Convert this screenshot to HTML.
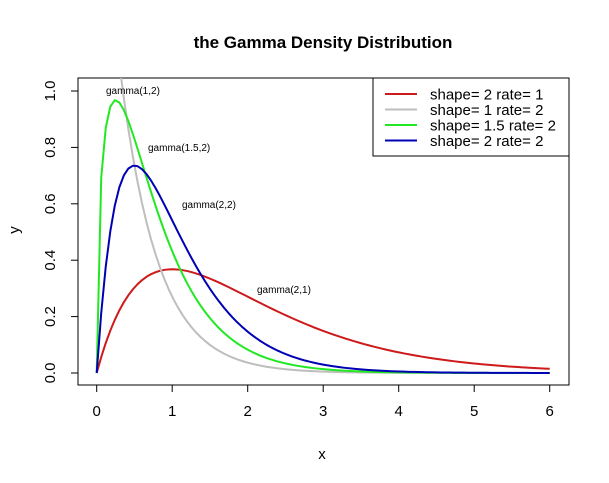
<!DOCTYPE html>
<html><head><meta charset="utf-8"><style>
body{margin:0;background:#fff}
svg{display:block;font-family:"Liberation Sans",Arial,sans-serif}
</style></head><body>
<svg id="s" width="609" height="483" viewBox="0 0 609 483" xmlns="http://www.w3.org/2000/svg">
<rect width="609" height="483" fill="#fff"/>
<defs><clipPath id="c"><rect x="78" y="78" width="491" height="307"/></clipPath></defs>
<text x="323" y="48" font-size="17" font-weight="bold" text-anchor="middle">the Gamma Density Distribution</text>
<rect x="78" y="78" width="491" height="307" fill="none" stroke="#000" stroke-width="1"/>
<g stroke="#000" stroke-width="1">
<line x1="96.7" y1="385" x2="549.7" y2="385"/>
<line x1="96.7" y1="385" x2="96.7" y2="392"/><line x1="172.2" y1="385" x2="172.2" y2="392"/>
<line x1="247.7" y1="385" x2="247.7" y2="392"/><line x1="323.2" y1="385" x2="323.2" y2="392"/>
<line x1="398.7" y1="385" x2="398.7" y2="392"/><line x1="474.2" y1="385" x2="474.2" y2="392"/>
<line x1="549.7" y1="385" x2="549.7" y2="392"/>
<line x1="78" y1="373" x2="78" y2="91"/>
<line x1="71" y1="373" x2="78" y2="373"/><line x1="71" y1="316.6" x2="78" y2="316.6"/>
<line x1="71" y1="260.2" x2="78" y2="260.2"/><line x1="71" y1="203.8" x2="78" y2="203.8"/>
<line x1="71" y1="147.4" x2="78" y2="147.4"/><line x1="71" y1="91" x2="78" y2="91"/>
</g>
<g font-size="15" text-anchor="middle">
<text x="96.7" y="416">0</text><text x="172.2" y="416">1</text><text x="247.7" y="416">2</text>
<text x="323.2" y="416">3</text><text x="398.7" y="416">4</text><text x="474.2" y="416">5</text>
<text x="549.7" y="416">6</text>
<text transform="translate(55,373) rotate(-90)">0.0</text>
<text transform="translate(55,316.6) rotate(-90)">0.2</text>
<text transform="translate(55,260.2) rotate(-90)">0.4</text>
<text transform="translate(55,203.8) rotate(-90)">0.6</text>
<text transform="translate(55,147.4) rotate(-90)">0.8</text>
<text transform="translate(55,91) rotate(-90)">1.0</text>
<text x="322" y="459">x</text>
<text transform="translate(19,230) rotate(-90)">y</text>
</g>
<g id="curves" clip-path="url(#c)" fill="none" stroke-width="2" stroke-linejoin="round"></g>
<g font-size="10">
<text x="106" y="94">gamma(1,2)</text>
<text x="148" y="151">gamma(1.5,2)</text>
<text x="182" y="208">gamma(2,2)</text>
<text x="257" y="293">gamma(2,1)</text>
</g>
<rect x="373" y="78" width="196" height="78" fill="#fff" stroke="#000"/>
<g stroke-width="2">
<line x1="385" y1="94" x2="417" y2="94" stroke="#cd1a1a"/>
<line x1="385" y1="109.5" x2="417" y2="109.5" stroke="#bebebe"/>
<line x1="385" y1="125" x2="417" y2="125" stroke="#22e822"/>
<line x1="385" y1="140.5" x2="417" y2="140.5" stroke="#0000b4"/>
</g>
<g font-size="15">
<text x="430" y="99.5">shape= 2 rate= 1</text>
<text x="430" y="115">shape= 1 rate= 2</text>
<text x="430" y="130.5">shape= 1.5 rate= 2</text>
<text x="430" y="146">shape= 2 rate= 2</text>
</g>
</svg>
<script>
(function(){
function lg(a){return a===1?1:(a===2?1:Math.sqrt(Math.PI)/2);}
function d(x,a,b){if(x<=0){return a===1?b:0;}return Math.pow(b,a)*Math.pow(x,a-1)*Math.exp(-b*x)/lg(a);}
var cs=[[2,1,"#cd1a1a"],[1,2,"#bebebe"],[1.5,2,"#22e822"],[2,2,"#0000b4"]];
var g=document.getElementById("curves");var ns="http://www.w3.org/2000/svg";
cs.forEach(function(c){var p="";for(var i=0;i<=100;i++){var x=i*0.06;var y=d(x,c[0],c[1]);
p+=(i?"L":"M")+(96.7+x*75.5).toFixed(2)+","+(373-y*282).toFixed(2);}
var e=document.createElementNS(ns,"path");e.setAttribute("d",p);e.setAttribute("stroke",c[2]);g.appendChild(e);});
})();
</script>
</body></html>
